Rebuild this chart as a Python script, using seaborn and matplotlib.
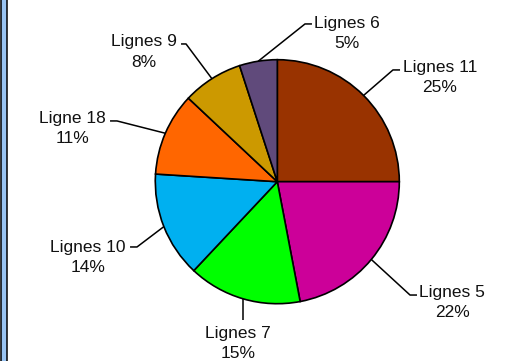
import matplotlib
matplotlib.use("Agg")
import matplotlib.pyplot as plt
from matplotlib.patches import Rectangle
import numpy as np
import seaborn as sns

# Share of passengers by line
lines = ["Lignes 11", "Lignes 5", "Lignes 7", "Lignes 10", "Ligne 18", "Lignes 9", "Lignes 6"]
shares = [25, 22, 15, 14, 11, 8, 5]
colors = ["#993300", "#CC0099", "#00FF00", "#00B0F0", "#FF6600", "#CC9900", "#604A7B"]

# Label layout (in pie-radius units): leader elbow, leader end, text centre x, baseline of last line
elbows = [(0.948, 0.916), (1.088, -0.929), (None, -1.134), (-1.150, -0.535),
          (-1.314, 0.498), (-0.748, 1.129), (0.227, 1.293)]
ends = [(1.006, 0.916), (1.145, -0.929), None, (-1.207, -0.535),
        (-1.371, 0.498), (-0.789, 1.129), (0.284, 1.293)]
text_pos = [(1.334, 0.735), (1.432, -1.109), (-0.322, -1.445), (-1.552, -0.740),
            (-1.679, 0.317), (-1.097, 0.944), (0.571, 1.096)]

sns.set_theme(style="white")
plt.rcParams["font.family"] = ["Liberation Sans", "DejaVu Sans"]

W, H, DPI = 522, 361, 100
fig = plt.figure(figsize=(W / DPI, H / DPI), dpi=DPI)
fig.patch.set_facecolor("white")
ax = fig.add_axes([0, 0, 1, 1])

cx, cy, r = 277.3, 181.7, 122.0
wedges, _ = ax.pie(shares, colors=colors, startangle=90, counterclock=False,
                   radius=1.0, center=(0, 0),
                   wedgeprops=dict(edgecolor="black", linewidth=1.2))
ax.set_xlim(-cx / r, (W - cx) / r)
ax.set_ylim(-(H - cy) / r, cy / r)
ax.set_aspect("equal")
ax.axis("off")

total = sum(shares)
for w, name, val, elb, end, tp in zip(wedges, lines, shares, elbows, ends, text_pos):
    mid = np.deg2rad((w.theta1 + w.theta2) / 2)
    sx, sy = np.cos(mid), np.sin(mid)
    if elb[0] is None:
        xs, ys = [sx, sx], [sy, elb[1]]
    else:
        xs, ys = [sx, elb[0], end[0]], [sy, elb[1], end[1]]
    ax.plot(xs, ys, color="black", lw=1.1, solid_capstyle="butt")
    ax.text(tp[0], tp[1], f"{name}\n{round(val / total * 100)}%",
            ha="center", va="baseline", multialignment="center",
            fontsize=12.5, color="#111111", linespacing=1.45)

# Blue frame strip on the left edge
fig.patches.append(Rectangle((0.5 / W, -0.01), 6.5 / W, 1.02, transform=fig.transFigure,
                             facecolor="#99C4F2", edgecolor="black", linewidth=1.1))

fig.savefig("out.png", dpi=DPI, facecolor="white")
